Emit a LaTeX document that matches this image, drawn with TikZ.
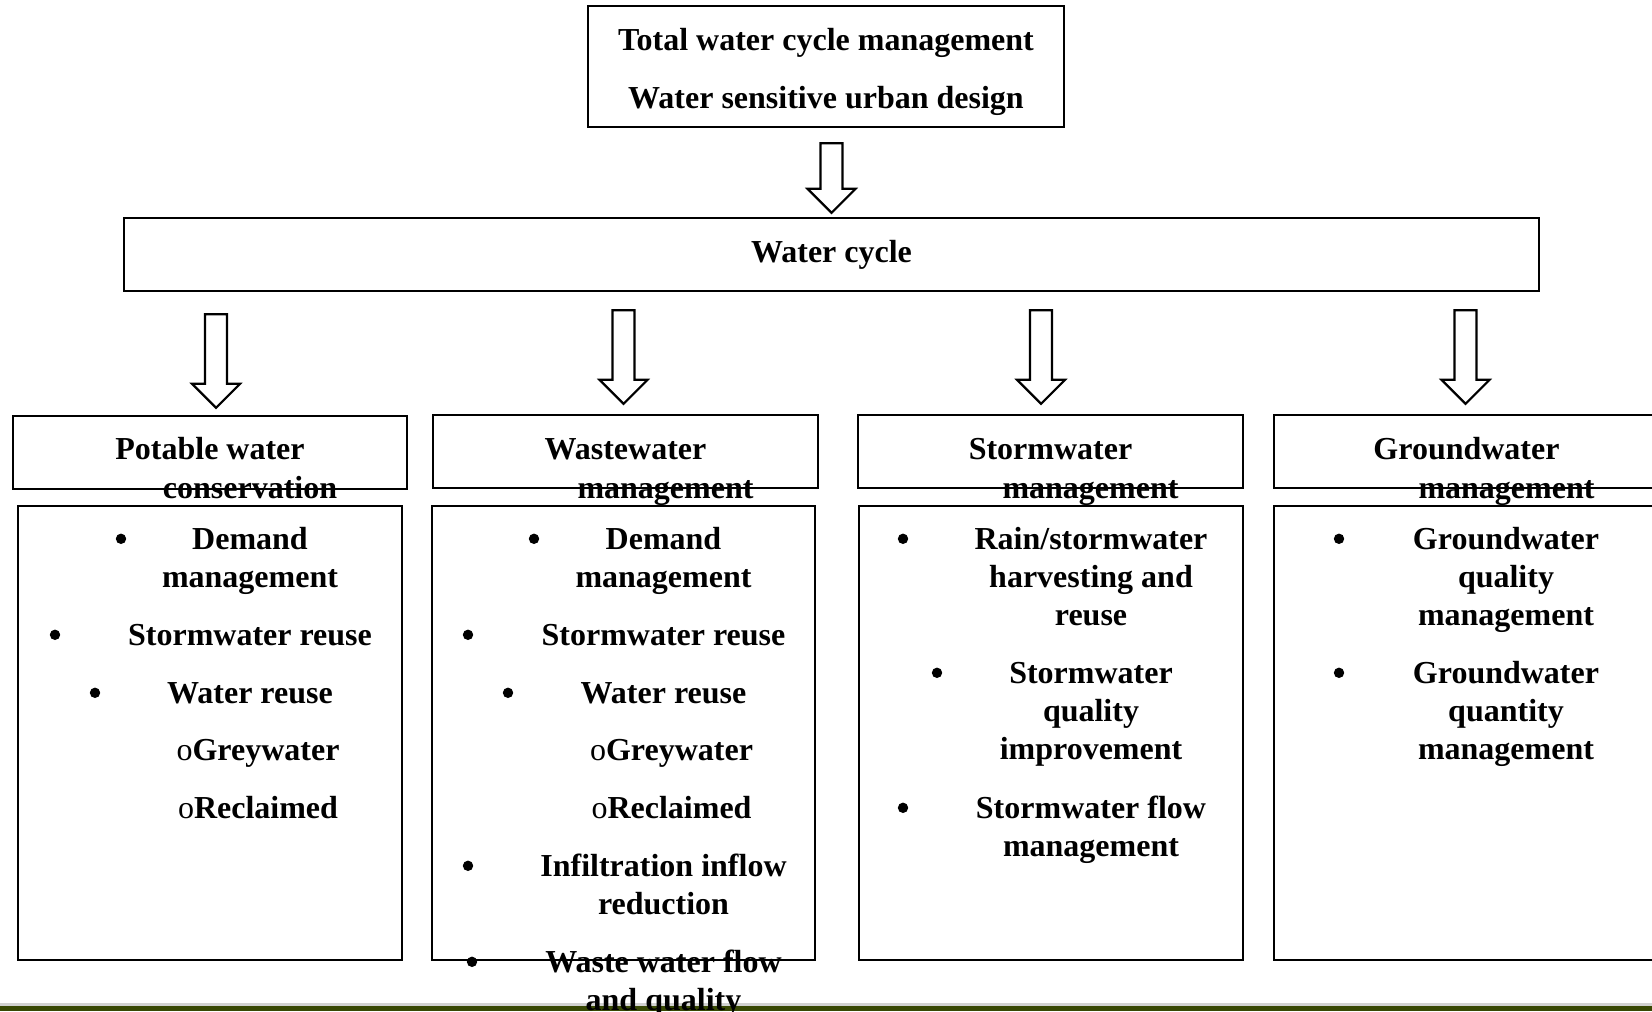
\documentclass[tikz,border=0pt]{standalone}
\usepackage{fontspec}
\setmainfont{Liberation Serif}
\usetikzlibrary{calc}
\definecolor{barolive}{RGB}{56,72,4}
\tikzset{
  wbox/.style={draw, line width=1.2pt, inner sep=0pt},
  txt/.style={font=\bfseries\fontsize{16}{19}\selectfont, align=center, anchor=base, inner sep=0pt},
  arrowbox/.style={draw, line width=1.1pt, fill=white, line join=miter},
}
% hollow block arrow, from the top of its shaft down to its tip
\newcommand{\fatarrow}[2]{%
  \draw[arrowbox] let \p1=(#1), \p2=(#2) in
    (\x1-5.5pt,\y1) -- (\x1+5.5pt,\y1) -- (\x1+5.5pt,\y2+12pt) -- (\x1+12pt,\y2+12pt)
    -- (\x1,\y2) -- (\x1-12pt,\y2+12pt) -- (\x1-5.5pt,\y2+12pt) -- cycle;}
\begin{document}
\begin{tikzpicture}[x=0.5pt,y=-0.5pt]
	\useasboundingbox (0,0) rectangle (1652,1011);
	\fill[gray!35] (0,1003) rectangle (1652,1006);
	\fill[barolive] (0,1006) rectangle (1652,1011);
	% top and middle boxes (text nodes sit on their last baseline)
	\node[wbox, minimum width=238pt, minimum height=60.5pt] (twcm) at (826,66.5) {};
	\node[txt, font=\bfseries\fontsize{16}{29}\selectfont] (twcmt) at ($(twcm.north)+(0,104)$) {Total water cycle management\\Water sensitive urban design};
	\node[wbox, minimum width=707.5pt, minimum height=36.5pt, font=\bfseries\fontsize{16}{19}\selectfont] (wc) at (831.5,254.5) {Water cycle};
	% headers
	\node[wbox, minimum width=197pt, minimum height=36.5pt] (h1) at (210,452.5) {};
	\node[wbox, minimum width=192.5pt, minimum height=36.5pt] (h2) at (625.5,451.5) {};
	\node[wbox, minimum width=192.5pt, minimum height=36.5pt] (h3) at (1050.5,451.5) {};
	\node[wbox, minimum width=192.5pt, minimum height=36.5pt] (h4) at (1466.5,451.5) {};
	\tikzset{hdr/.style={txt, font=\bfseries\fontsize{16}{19.5}\selectfont}}
	\node[hdr] (h1t) at ($(h1.north)+(0,84)$) {Potable water\\\hspace*{40pt}conservation};
	\node[hdr] (h2t) at ($(h2.north)+(0,85)$) {Wastewater\\\hspace*{40pt}management};
	\node[hdr] (h3t) at ($(h3.north)+(0,85)$) {Stormwater\\\hspace*{40pt}management};
	\node[hdr] (h4t) at ($(h4.north)+(0,85)$) {Groundwater\\\hspace*{40pt}management};
	% arrows
	\fatarrow{$(wc.north|-twcm.south)+(0,15)$}{$(wc.north)+(0,-4)$}
	\foreach \h/\dx/\top/\tip in {h1/6/22/7,h2/-2/18/10,h3/-9.5/18/10,h4/-1/18/10}
		\fatarrow{$(\h.north|-wc.south)+(\dx,\top)$}{$(\h.north)+(\dx,-\tip)$};
	% content boxes
	\node[wbox, minimum width=192pt, minimum height=227pt] (c1) at (210,733) {};
	\node[wbox, minimum width=191.5pt, minimum height=227pt] (c2) at (623.5,733) {};
	\node[wbox, minimum width=192pt, minimum height=227pt] (c3) at (1051,733) {};
	\node[wbox, minimum width=192pt, minimum height=227pt] (c4) at (1466,733) {};
	% potable water conservation
	\node[txt] (c1a) at ($(c1.north)+(40,83)$) {Demand\\management};
	\node[txt] (c1b) at ($(c1.north)+(40,141)$) {Stormwater reuse};
	\node[txt] (c1c) at ($(c1.north)+(40,199)$) {Water reuse};
	\node[txt] (c1d) at ($(c1.north)+(48,256)$) {\textmd{o}Greywater};
	\node[txt] (c1e) at ($(c1.north)+(48,314)$) {\textmd{o}Reclaimed};
	\foreach \dx/\dy in {-89/34,-155/130,-115/188}
		\fill ($(c1.north)+(\dx,\dy)$) circle (2.6pt);
	% wastewater management
	\node[txt] (c2a) at ($(c2.north)+(40,83)$) {Demand\\management};
	\node[txt] (c2b) at ($(c2.north)+(40,141)$) {Stormwater reuse};
	\node[txt] (c2c) at ($(c2.north)+(40,199)$) {Water reuse};
	\node[txt] (c2d) at ($(c2.north)+(48,256)$) {\textmd{o}Greywater};
	\node[txt] (c2e) at ($(c2.north)+(48,314)$) {\textmd{o}Reclaimed};
	\node[txt] (c2f) at ($(c2.north)+(40,410)$) {Infiltration inflow\\reduction};
	\node[txt] (c2g) at ($(c2.north)+(40,506)$) {Waste water flow\\and quality};
	\foreach \dx/\dy in {-89.5/34,-155.5/130,-115.5/188,-155.5/361,-151.5/457}
		\fill ($(c2.north)+(\dx,\dy)$) circle (2.6pt);
	% stormwater management
	\node[txt] (c3a) at ($(c3.north)+(40,121)$) {Rain/stormwater\\harvesting and\\reuse};
	\node[txt] (c3b) at ($(c3.north)+(40,255)$) {Stormwater\\quality\\improvement};
	\node[txt] (c3c) at ($(c3.north)+(40,352)$) {Stormwater flow\\management};
	\foreach \dx/\dy in {-148/34,-114/168,-148/303}
		\fill ($(c3.north)+(\dx,\dy)$) circle (2.6pt);
	% groundwater management
	\node[txt] (c4a) at ($(c4.north)+(40,121)$) {Groundwater\\quality\\management};
	\node[txt] (c4b) at ($(c4.north)+(40,255)$) {Groundwater\\quantity\\management};
	\foreach \dx/\dy in {-127/34,-127/168}
		\fill ($(c4.north)+(\dx,\dy)$) circle (2.6pt);
\end{tikzpicture}
\end{document}
